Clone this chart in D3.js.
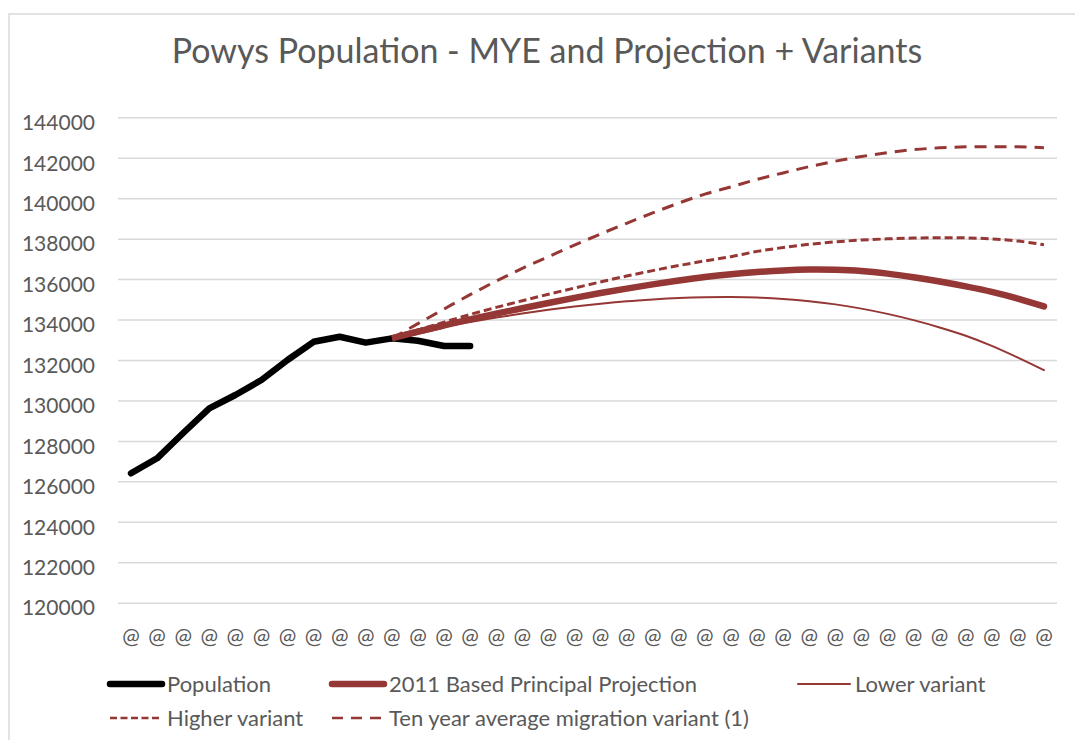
<!DOCTYPE html>
<meta charset="utf-8">
<head>
  <meta charset="utf-8">
  <title>Powys Population</title>
  <style>
    body { margin: 0; background: #fff; }
    text { font-family: Lato, "Open Sans", sans-serif; fill: #595959; }
  </style>
</head>
<body>
<script src="https://cdn.jsdelivr.net/npm/d3@7/dist/d3.min.js"></script>
<script>

// categories (year labels render as "@" in the source)
var years = d3.range(36).map(function(i) { return "y" + i; });
var yearLabels = years.map(function() { return "@"; });

// series values; projections start at index 10
var population = [126400, 127140, 128390, 129610, 130270, 131010, 132000,
                  132900, 133150, 132860, 133070, 132950, 132690, 132690];
var principal = [133070, 133400, 133710, 134010, 134290, 134560, 134820, 135070,
                 135310, 135530, 135740, 135930, 136100, 136240, 136350, 136430,
                 136470, 136460, 136400, 136270, 136090, 135880, 135640, 135370,
                 135040, 134650];
var lower = [133070, 133370, 133640, 133880, 134100, 134300, 134480, 134640,
             134780, 134900, 134990, 135060, 135100, 135110, 135090, 135020,
             134910, 134750, 134540, 134280, 133970, 133610, 133200, 132700,
             132120, 131500];
var higher = [133070, 133480, 133870, 134250, 134600, 134930, 135250, 135560,
              135860, 136150, 136420, 136670, 136900, 137110, 137370, 137560,
              137720, 137840, 137930, 137990, 138030, 138050, 138040, 137990,
              137880, 137700];
var tenYear = [133070, 133800, 134520, 135230, 135900, 136530, 137110, 137680,
               138230, 138760, 139270, 139760, 140200, 140560, 140930, 141250,
               141560, 141830, 142060, 142250, 142400, 142490, 142540, 142550,
               142540, 142500];
var projStart = 10;
var yTicks = d3.range(120000, 144001, 2000);

var red = "#953735";

var width = 1075, height = 740;
var margin = {top: 117.3, left: 118, right: 1057, bottom: 602.7};

var svg = d3.select("body").append("svg")
    .attr("width", width)
    .attr("height", height);

// chart border
svg.append("rect")
    .attr("x", 9).attr("y", 14)
    .attr("width", 1200).attr("height", 900)
    .attr("fill", "none")
    .attr("stroke", "#d9d9d9")
    .attr("stroke-width", 1.5);

// title
svg.append("text")
    .attr("x", 547).attr("y", 63)
    .attr("text-anchor", "middle")
    .style("font-size", "34px")
    .text("Powys Population - MYE and Projection + Variants");

var x = d3.scaleBand()
    .domain(years)
    .range([margin.left, margin.right]);

var y = d3.scaleLinear()
    .domain([120000, 144000])
    .range([margin.bottom, margin.top]);

function cx(i) { return x(years[i]) + x.bandwidth() / 2; }

// gridlines + y labels
var yAxis = svg.append("g")
    .attr("transform", "translate(" + margin.left + ",0)")
    .call(d3.axisLeft(y).tickValues(yTicks)
          .tickSize(-(margin.right - margin.left))
          .tickFormat(d3.format("d"))
          .tickPadding(23));
yAxis.select(".domain").remove();
yAxis.selectAll("line").attr("stroke", "#d9d9d9").attr("stroke-width", 1.5);
yAxis.selectAll("text")
    .attr("dy", "0.68em")
    .attr("y", -2)
    .style("font-size", "21px")
    .style("fill", "#595959")
    .style("font-family", "Lato, sans-serif");

// x labels
var xAxis = svg.append("g")
    .attr("transform", "translate(0," + margin.bottom + ")")
    .call(d3.axisBottom(x).tickSize(0).tickPadding(26)
          .tickFormat(function(d, i) { return yearLabels[i]; }));
xAxis.select(".domain").remove();
xAxis.selectAll("text")
    .style("font-size", "21px")
    .style("fill", "#595959")
    .style("font-family", "Lato, sans-serif");

var lineStraight = d3.line()
    .x(function(d, i) { return cx(i); })
    .y(function(d) { return y(d); });

var lineSmooth = d3.line()
    .x(function(d, i) { return cx(i + projStart); })
    .y(function(d) { return y(d); })
    .curve(d3.curveCatmullRom);

var series = [
  {name: "Ten year average migration variant (1)", data: tenYear, color: red, w: 3, dash: "12,8"},
  {name: "Higher variant", data: higher, color: red, w: 3, dash: "8,4"},
  {name: "Lower variant", data: lower, color: red, w: 2, dash: null},
  {name: "2011 Based Principal Projection", data: principal, color: red, w: 6.5, dash: null}
];

series.forEach(function(s) {
  svg.append("path")
      .datum(s.data)
      .attr("fill", "none")
      .attr("stroke", s.color)
      .attr("stroke-width", s.w)
      .attr("stroke-dasharray", s.dash)
      .attr("stroke-linecap", s.dash ? "butt" : "round")
      .attr("d", lineSmooth);
});

svg.append("path")
    .datum(population)
    .attr("fill", "none")
    .attr("stroke", "#000")
    .attr("stroke-width", 6.5)
    .attr("stroke-linejoin", "round")
    .attr("stroke-linecap", "round")
    .attr("d", lineStraight);

// re-draw principal start over population join
svg.append("path")
    .datum(principal.slice(0, 3))
    .attr("fill", "none")
    .attr("stroke", red)
    .attr("stroke-width", 6.5)
    .attr("d", lineSmooth);

// legend
var legend = [
  {name: "Population", color: "#000", w: 6.5, dash: null, x: 108, y: 684},
  {name: "2011 Based Principal Projection", color: red, w: 6.5, dash: null, x: 330, y: 684},
  {name: "Lower variant", color: red, w: 2, dash: null, x: 796, y: 684},
  {name: "Higher variant", color: red, w: 2.5, dash: "7,3.5", x: 108, y: 718},
  {name: "Ten year average migration variant (1)", color: red, w: 2.5, dash: "11,8", x: 330, y: 718}
];

var lg = svg.selectAll(".legend")
    .data(legend)
    .enter().append("g")
    .attr("class", "legend")
    .attr("transform", function(d) { return "translate(" + d.x + "," + d.y + ")"; });

lg.append("line")
    .attr("x1", 2).attr("x2", 54)
    .attr("stroke", function(d) { return d.color; })
    .attr("stroke-width", function(d) { return d.w; })
    .attr("stroke-dasharray", function(d) { return d.dash; })
    .attr("stroke-linecap", function(d) { return d.dash ? "butt" : "round"; });

lg.append("text")
    .attr("x", 59).attr("dy", "0.36em")
    .style("font-size", "22px")
    .text(function(d) { return d.name; });

</script>
</body>
